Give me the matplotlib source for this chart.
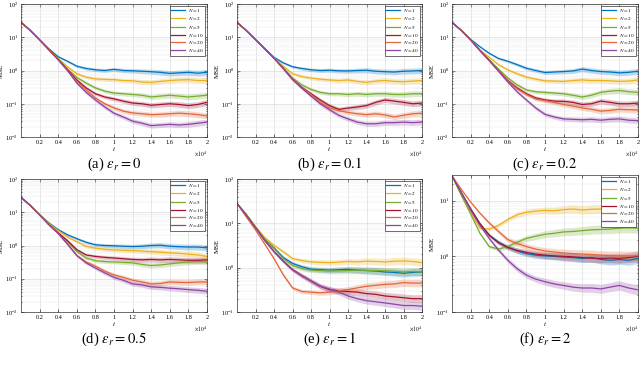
import numpy as np
import matplotlib.pyplot as plt
from matplotlib.ticker import FixedLocator, LogLocator, NullFormatter, FuncFormatter

plt.rcParams['font.family'] = 'serif'
plt.rcParams['font.serif'] = ['Liberation Serif', 'DejaVu Serif']
plt.rcParams['mathtext.fontset'] = 'stix'

# time axis (x 10^4)
t = [0.0, 0.1, 0.2, 0.3, 0.4, 0.5, 0.6, 0.7, 0.8, 0.9, 1.0,
     1.1, 1.2, 1.3, 1.4, 1.5, 1.6, 1.7, 1.8, 1.9, 2.0]
labels = ['$N = 1$', '$N = 2$', '$N = 5$', '$N = 10$', '$N = 20$', '$N = 40$']
colors = ['#0072BD', '#EDB120', '#77AC30', '#A2142F', '#E2673A', '#8E45A5']
# relative width of the shaded band over time
spread = [1.0, 1.01, 1.03, 1.05, 1.07, 1.09, 1.1, 1.12, 1.13, 1.14, 1.15,
          1.16, 1.17, 1.18, 1.19, 1.2, 1.2, 1.21, 1.22, 1.22, 1.23]

# MSE curves, one list per N (1, 2, 5, 10, 20, 40)
mse_a = [
    [28, 16, 8.4, 4.5, 2.6, 1.9, 1.35, 1.15, 1.05, 1.0, 1.08, 1.0, 0.98, 0.95, 0.92, 0.88, 0.82, 0.85, 0.88, 0.83, 0.88],
    [28, 16, 8.3, 4.3, 2.3, 1.3, 0.8, 0.63, 0.56, 0.54, 0.53, 0.5, 0.49, 0.45, 0.44, 0.47, 0.5, 0.52, 0.53, 0.5, 0.5],
    [28, 16, 8.3, 4.2, 2.2, 1.1, 0.62, 0.42, 0.3, 0.24, 0.21, 0.2, 0.19, 0.18, 0.16, 0.17, 0.18, 0.17, 0.16, 0.17, 0.18],
    [28, 16, 8.3, 4.2, 2.15, 1.05, 0.52, 0.3, 0.2, 0.16, 0.14, 0.12, 0.105, 0.1, 0.09, 0.095, 0.1, 0.095, 0.088, 0.095, 0.11],
    [28, 16, 8.3, 4.2, 2.1, 1.0, 0.47, 0.26, 0.15, 0.1, 0.075, 0.06, 0.053, 0.05, 0.047, 0.048, 0.05, 0.052, 0.05, 0.047, 0.043],
    [28, 16, 8.3, 4.2, 2.1, 1.0, 0.42, 0.22, 0.13, 0.08, 0.052, 0.04, 0.03, 0.026, 0.022, 0.023, 0.024, 0.023, 0.024, 0.026, 0.028],
]
mse_b = [
    [28, 16, 8.5, 4.6, 2.5, 1.7, 1.3, 1.15, 1.05, 1.0, 1.02, 0.98, 0.97, 1.0, 1.02, 0.95, 0.92, 0.9, 0.95, 0.97, 1.0],
    [28, 16, 8.5, 4.5, 2.4, 1.35, 0.8, 0.66, 0.59, 0.55, 0.52, 0.5, 0.52, 0.47, 0.44, 0.48, 0.5, 0.47, 0.46, 0.48, 0.5],
    [28, 16, 8.5, 4.5, 2.35, 1.2, 0.6, 0.37, 0.27, 0.22, 0.2, 0.2, 0.19, 0.2, 0.19, 0.2, 0.2, 0.19, 0.19, 0.2, 0.2],
    [28, 16, 8.5, 4.5, 2.35, 1.15, 0.55, 0.31, 0.2, 0.13, 0.088, 0.068, 0.074, 0.08, 0.088, 0.11, 0.13, 0.12, 0.11, 0.1, 0.105],
    [28, 16, 8.5, 4.5, 2.35, 1.15, 0.54, 0.3, 0.19, 0.11, 0.075, 0.062, 0.055, 0.05, 0.047, 0.05, 0.046, 0.04, 0.045, 0.05, 0.052],
    [28, 16, 8.5, 4.5, 2.35, 1.15, 0.54, 0.3, 0.17, 0.1, 0.066, 0.045, 0.035, 0.028, 0.025, 0.025, 0.027, 0.027, 0.028, 0.027, 0.028],
]
mse_c = [
    [28, 16, 8.7, 5.2, 3.3, 2.3, 1.9, 1.5, 1.17, 1.0, 0.87, 0.9, 0.93, 0.97, 1.1, 1.0, 0.93, 0.9, 0.85, 0.88, 0.95],
    [28, 16, 8.5, 4.2, 2.5, 1.5, 1.05, 0.8, 0.63, 0.55, 0.49, 0.48, 0.47, 0.5, 0.52, 0.5, 0.5, 0.49, 0.47, 0.48, 0.52],
    [28, 16, 8.3, 4.0, 2.1, 1.1, 0.6, 0.37, 0.26, 0.23, 0.22, 0.21, 0.2, 0.18, 0.16, 0.18, 0.22, 0.24, 0.25, 0.23, 0.22],
    [28, 16, 8.3, 4.0, 2.0, 1.0, 0.5, 0.3, 0.2, 0.15, 0.13, 0.12, 0.118, 0.11, 0.095, 0.1, 0.12, 0.11, 0.1, 0.1, 0.105],
    [28, 16, 8.3, 4.0, 2.0, 1.0, 0.48, 0.28, 0.19, 0.14, 0.125, 0.11, 0.095, 0.085, 0.075, 0.068, 0.06, 0.063, 0.068, 0.066, 0.065],
    [28, 16, 8.3, 4.0, 2.0, 0.95, 0.45, 0.23, 0.13, 0.075, 0.048, 0.04, 0.035, 0.034, 0.033, 0.034, 0.032, 0.034, 0.035, 0.032, 0.031],
]
mse_d = [
    [28, 16, 8.5, 4.8, 3.0, 2.1, 1.6, 1.25, 1.05, 1.0, 0.98, 0.95, 0.93, 0.95, 1.0, 1.02, 0.95, 0.92, 0.9, 0.9, 0.85],
    [28, 16, 8.4, 4.6, 2.8, 1.8, 1.3, 0.95, 0.83, 0.77, 0.74, 0.72, 0.7, 0.68, 0.65, 0.63, 0.6, 0.58, 0.55, 0.52, 0.47],
    [28, 16, 8.3, 4.3, 2.4, 1.3, 0.66, 0.42, 0.35, 0.33, 0.32, 0.31, 0.3, 0.27, 0.25, 0.26, 0.28, 0.3, 0.32, 0.33, 0.32],
    [28, 16, 8.3, 4.3, 2.4, 1.4, 0.75, 0.52, 0.47, 0.44, 0.42, 0.4, 0.38, 0.37, 0.38, 0.37, 0.38, 0.37, 0.36, 0.36, 0.37],
    [28, 16, 8.3, 4.2, 2.3, 1.1, 0.5, 0.32, 0.24, 0.17, 0.13, 0.11, 0.09, 0.08, 0.07, 0.072, 0.08, 0.078, 0.077, 0.08, 0.08],
    [28, 16, 8.3, 4.2, 2.3, 1.1, 0.5, 0.3, 0.21, 0.15, 0.11, 0.09, 0.07, 0.065, 0.057, 0.055, 0.052, 0.05, 0.047, 0.045, 0.042],
]
mse_e = [
    [28, 16, 8.3, 4.4, 2.8, 1.7, 1.25, 1.05, 0.93, 0.9, 0.88, 0.9, 0.92, 0.88, 0.86, 0.84, 0.8, 0.78, 0.75, 0.78, 0.8],
    [28, 16, 8.5, 4.8, 3.2, 2.3, 1.6, 1.45, 1.35, 1.32, 1.3, 1.33, 1.38, 1.35, 1.4, 1.38, 1.35, 1.4, 1.42, 1.38, 1.3],
    [28, 16, 8.3, 4.4, 2.7, 1.6, 1.12, 0.95, 0.88, 0.86, 0.84, 0.85, 0.86, 0.88, 0.87, 0.86, 0.85, 0.83, 0.8, 0.82, 0.8],
    [28, 15, 8.0, 4.1, 2.3, 1.4, 0.9, 0.66, 0.5, 0.38, 0.32, 0.3, 0.29, 0.28, 0.26, 0.25, 0.23, 0.22, 0.21, 0.2, 0.2],
    [28, 14, 7.1, 3.4, 1.6, 0.69, 0.35, 0.29, 0.28, 0.27, 0.28, 0.3, 0.32, 0.35, 0.38, 0.4, 0.42, 0.43, 0.46, 0.45, 0.45],
    [28, 15, 8.0, 4.1, 2.3, 1.4, 0.9, 0.66, 0.5, 0.38, 0.33, 0.28, 0.23, 0.2, 0.18, 0.17, 0.16, 0.15, 0.14, 0.14, 0.135],
]
mse_f = [
    [28, 14, 7.0, 3.8, 2.4, 1.8, 1.45, 1.25, 1.12, 1.05, 1.02, 1.0, 0.97, 0.95, 0.92, 0.95, 0.88, 0.85, 0.88, 0.85, 0.92],
    [28, 13, 6.2, 3.2, 3.1, 3.6, 4.6, 5.6, 6.2, 6.5, 6.7, 6.6, 6.9, 7.1, 6.8, 7.0, 7.1, 7.3, 7.6, 7.2, 7.4],
    [28, 12.5, 5.8, 2.6, 1.5, 1.35, 1.5, 1.8, 2.1, 2.3, 2.5, 2.6, 2.75, 2.8, 2.9, 3.0, 3.05, 3.1, 3.2, 3.25, 3.2],
    [28, 14, 7.2, 3.9, 2.4, 1.75, 1.45, 1.28, 1.18, 1.1, 1.05, 1.02, 1.0, 0.98, 0.95, 0.93, 0.92, 0.93, 0.92, 0.95, 1.0],
    [28, 16, 9.5, 6.0, 4.0, 2.8, 2.0, 1.7, 1.5, 1.35, 1.25, 1.2, 1.15, 1.12, 1.1, 1.08, 1.05, 1.03, 1.02, 1.02, 1.03],
    [28, 14, 6.8, 3.6, 2.1, 1.3, 0.85, 0.6, 0.46, 0.39, 0.35, 0.32, 0.3, 0.28, 0.27, 0.27, 0.26, 0.28, 0.3, 0.27, 0.25],
]

panels = [
    (mse_a, r'(a) $\epsilon_r = 0$', (0.01, 100)),
    (mse_b, r'(b) $\epsilon_r = 0.1$', (0.01, 100)),
    (mse_c, r'(c) $\epsilon_r = 0.2$', (0.01, 100)),
    (mse_d, r'(d) $\epsilon_r = 0.5$', (0.01, 100)),
    (mse_e, r'(e) $\epsilon_r = 1$', (0.1, 100)),
    (mse_f, r'(f) $\epsilon_r = 2$', (0.1, 29)),
]

# axes boxes in pixels: left, top, right, bottom
boxes = [(21, 4, 207, 137), (237, 4, 422, 137), (452, 4, 638, 137),
         (21, 179, 207, 312), (237, 179, 422, 312), (452, 175, 638, 312)]
W, H = 640, 365

fig = plt.figure(figsize=(6.4, 3.65), dpi=100)
t_arr = np.array(t)
sp = np.array(spread)

for (data, caption, ylim), (x0, y0, x1, y1) in zip(panels, boxes):
    ax = fig.add_axes([x0 / W, 1 - y1 / H, (x1 - x0) / W, (y1 - y0) / H])
    for vals, col, lab in zip(data, colors, labels):
        v = np.array(vals, dtype=float)
        ax.fill_between(t_arr, v / sp, v * sp, color=col, alpha=0.25, lw=0)
        ax.plot(t_arr, v, color=col, lw=0.9, label=lab)
    ax.set_yscale('log')
    ax.set_xlim(0, 2)
    ax.set_ylim(*ylim)
    ax.xaxis.set_major_locator(FixedLocator([0.2, 0.4, 0.6, 0.8, 1.0, 1.2, 1.4, 1.6, 1.8, 2.0]))
    ax.xaxis.set_major_formatter(FuncFormatter(lambda x, p: '%g' % round(x, 1)))
    ax.yaxis.set_major_locator(LogLocator(base=10, numticks=10))
    ax.yaxis.set_minor_locator(LogLocator(base=10, subs=np.arange(2, 10), numticks=20))
    ax.yaxis.set_minor_formatter(NullFormatter())
    ax.tick_params(which='both', direction='in', top=True, right=True,
                   labelsize=4.5, width=0.4, pad=2)
    ax.tick_params(which='major', length=2)
    ax.tick_params(which='minor', length=1)
    ax.grid(True, which='major', color='#d4d4d4', lw=0.4)
    ax.grid(True, which='minor', axis='y', color='#e4e4e4', lw=0.3)
    ax.set_axisbelow(True)
    for s in ax.spines.values():
        s.set_linewidth(0.5)
        s.set_color('#333333')
    ax.set_xlabel('$t$', fontsize=5, labelpad=0)
    ax.set_ylabel('MSE', fontsize=5, labelpad=1)
    ax.text(1.0, -0.09, r'$\times10^4$', transform=ax.transAxes, ha='right',
            va='top', fontsize=4)
    ax.legend(loc='upper right', fontsize=3.8, frameon=True, fancybox=False,
              edgecolor='#333333', framealpha=1, handlelength=2.6,
              borderpad=0.3, labelspacing=0.15, handletextpad=0.6,
              borderaxespad=0.3).get_frame().set_linewidth(0.5)
    fig.text((x0 + x1) / 2 / W, 1 - (y1 + 27) / H, caption, ha='center',
             va='center', fontsize=10.5)

fig.savefig('out.png', dpi=100)
